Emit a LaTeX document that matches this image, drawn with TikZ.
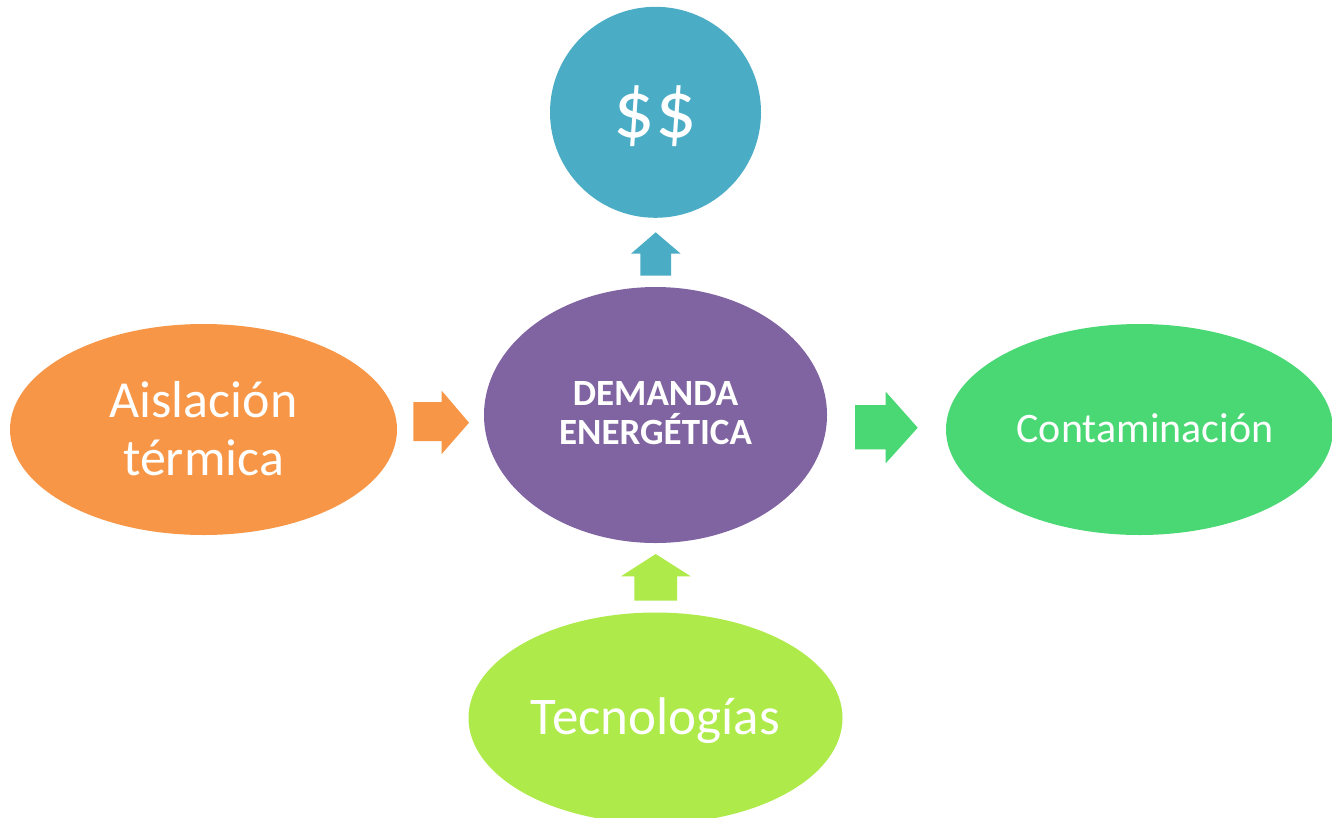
\documentclass[tikz,border=0pt]{standalone}
\usepackage{fontspec}
\setmainfont{Carlito}
\usetikzlibrary{shapes.geometric}
\definecolor{cteal}{HTML}{4BACC6}
\definecolor{cpurple}{HTML}{8064A2}
\definecolor{corange}{HTML}{F79646}
\definecolor{cgreen}{HTML}{4AD874}
\definecolor{clime}{HTML}{AEEA4A}
\begin{document}
\begin{tikzpicture}[x=1pt,y=-1pt,
  blob/.style={ellipse,inner sep=0pt,outer sep=0pt},
  label/.style={text=white,anchor=base,inner sep=0pt}]
\useasboundingbox (0,0) rectangle (1332,817);
\clip (0,0) rectangle (1332,817);

% shapes
\node[circle,fill=cteal,minimum size=211,inner sep=0pt] (money) at (655.5,112.3) {};
\node[blob,fill=cpurple,minimum width=343,minimum height=256] (demand) at (655.5,415) {};
\node[blob,fill=corange,minimum width=387,minimum height=211] (insul) at (203.5,429.5) {};
\node[blob,fill=cgreen,minimum width=387,minimum height=211] (pollu) at (1139.5,429.5) {};
\node[blob,fill=clime,minimum width=374,minimum height=211] (tech) at (655.5,718) {};

% block arrows
\fill[cteal] (655.7,232.3) -- (680.7,253.7) -- (671,253.7) -- (671,275.7)
  -- (640.3,275.7) -- (640.3,253.7) -- (631,253.7) -- cycle;
\fill[clime] (655.7,554) -- (690.7,576.3) -- (677,576.3) -- (677,600.7)
  -- (634.3,600.7) -- (634.3,576.3) -- (621,576.3) -- cycle;
\fill[corange] (469,422.7) -- (441.7,454) -- (441.7,441) -- (413.3,441)
  -- (413.3,402) -- (441.7,402) -- (441.7,390.7) -- cycle;
\fill[cgreen] (917.7,427.7) -- (885.7,463.3) -- (885.7,449.3) -- (855,449.3)
  -- (855,405) -- (885.7,405) -- (885.7,391.7) -- cycle;

% labels
\node[label,font=\fontsize{82}{82}\selectfont] (moneyt) at (655.5,137) {\$\$};
\node[label,font=\fontsize{37}{37}\bfseries] (demt1) at (655.5,405) {DEMANDA};
\node[label,font=\fontsize{37}{37}\bfseries] (demt2) at (655.5,444) {ENERGÉTICA};
\node[label,font=\fontsize{52}{52}\selectfont] (inst1) at (203.5,417) {Aislación};
\node[label,font=\fontsize{52}{52}\selectfont] (inst2) at (203.5,475) {térmica};
\node[label,font=\fontsize{42}{42}\selectfont] (polt) at (1145,442) {Contaminación};
\node[label,font=\fontsize{53}{53}\selectfont] (techt) at (655.5,734) {Tecnologías};
\end{tikzpicture}
\end{document}
